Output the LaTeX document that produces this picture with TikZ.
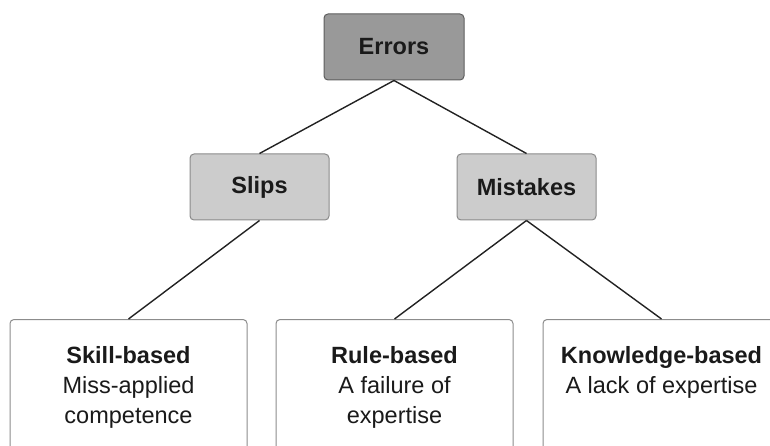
\documentclass[tikz,border=0pt]{standalone}
\usepackage{fontspec}
\setmainfont{Liberation Sans}
\definecolor{topfill}{HTML}{999999}
\definecolor{topedge}{HTML}{5E5E5E}
\definecolor{midfill}{HTML}{CCCCCC}
\definecolor{midedge}{HTML}{8A8A8A}
\definecolor{lowedge}{HTML}{8C8C8C}
\definecolor{ink}{HTML}{1A1A1A}
\definecolor{wire}{HTML}{222222}
\tikzset{
  topbox/.style={draw=topedge, fill=topfill, rounded corners=4pt, line width=1pt,
    minimum width=140pt, minimum height=66pt, inner sep=0pt, text=ink,
    font=\fontsize{23.5}{28}\selectfont\bfseries},
  midbox/.style={draw=midedge, fill=midfill, rounded corners=4pt, line width=1pt,
    minimum width=139pt, minimum height=66pt, inner sep=0pt, text=ink,
    font=\fontsize{23.5}{28}\selectfont\bfseries},
  lowbox/.style={draw=lowedge, fill=white, rounded corners=4pt, line width=1pt,
    inner sep=0pt, anchor=north, text=ink,
    font=\fontsize{23.5}{30}\selectfont},
  wireline/.style={draw=wire, line width=1.4pt}
}
\newcommand{\lowtext}[2]{\parbox[t][150pt][t]{237pt}{\centering\rule{0pt}{44pt}\textbf{#1}\\#2}}
\begin{document}
\begin{tikzpicture}[x=1pt,y=1pt]
\useasboundingbox (0,0) rectangle (770,-446);
\clip (0,0) rectangle (770,-446);
\node[topbox] (errors) at (394,-47) {Errors};
\node[midbox] (slips) at (259.5,-187) {Slips};
\node[midbox] (mistakes) at (526.5,-187) {Mistakes};
\node[lowbox] (skill) at (128.5,-319) {\lowtext{Skill-based}{Miss-applied\\competence}};
\node[lowbox] (rule) at (394.5,-319) {\lowtext{Rule-based}{A failure of\\expertise}};
\node[lowbox] (knowledge) at (661.5,-319) {\lowtext{Knowledge-based}{A lack of expertise}};
\draw[wireline] (errors.south) -- (slips.north);
\draw[wireline] (errors.south) -- (mistakes.north);
\draw[wireline] (slips.south) -- (skill.north);
\draw[wireline] (mistakes.south) -- (rule.north);
\draw[wireline] (mistakes.south) -- (knowledge.north);
\end{tikzpicture}
\end{document}
